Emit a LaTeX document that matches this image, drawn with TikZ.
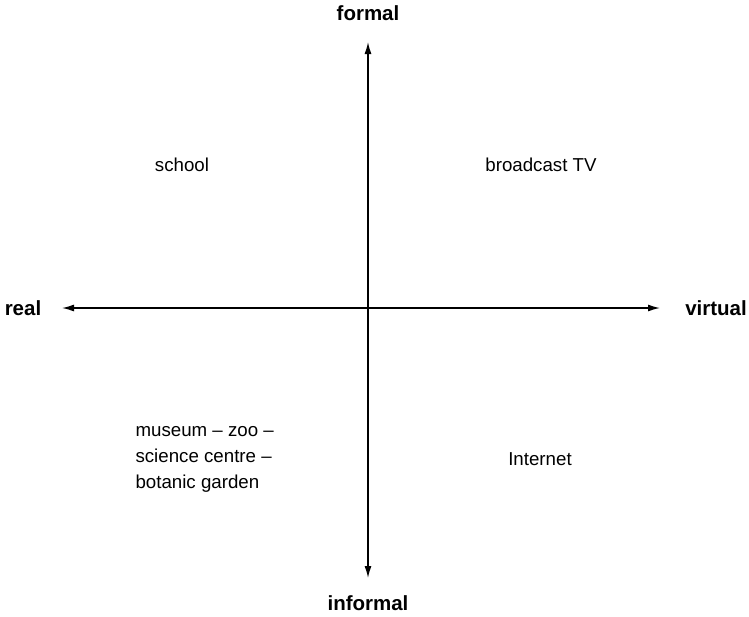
\documentclass[tikz,border=0pt]{standalone}
\usepackage{fontspec}
\setmainfont{Liberation Sans}
\usetikzlibrary{arrows.meta}
\begin{document}
\begin{tikzpicture}[x=1pt, y=-1pt, >={Latex[length=12pt,width=7pt]},
    axislabel/.style={font=\fontsize{20.5}{24}\selectfont\bfseries},
    place/.style={font=\fontsize{18.7}{26}\selectfont}]

        \useasboundingbox (0,0) rectangle (749,616);

        % Axes ends
        \coordinate (west) at (62,308);
        \coordinate (east) at (660,308);
        \coordinate (north) at (368,42);
        \coordinate (south) at (368,578);

        % Axes
        \draw[<->, line width=1.4pt] (west) -- (east);
        \draw[<->, line width=1.4pt] (south) -- (north);

        % Axis labels
        \node[axislabel] (formal) at (368,13) {formal};
        \node[axislabel] (informal) at (368,603) {informal};
        \node[axislabel] (real) at (23,308) {real};
        \node[axislabel] (virtual) at (716,308) {virtual};

        % Quadrants
        \node[place] (school) at (182,165) {school};
        \node[place] (tv) at (541,165) {broadcast TV};
        \node[place, align=left, anchor=west] (museum) at (132,459) {museum -- zoo --\\science centre --\\botanic garden};
        \node[place] (internet) at (540,459) {Internet};

    \end{tikzpicture}
\end{document}
